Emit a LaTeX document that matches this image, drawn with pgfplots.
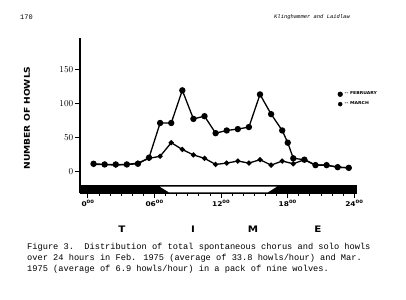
\documentclass[border=0pt]{standalone}
\usepackage{pgfplots}
\pgfplotsset{compat=1.18}
\usepackage{fontspec}
\setmainfont{Liberation Mono}
\newfontfamily\figfont[FakeStretch=1.15]{DejaVu Sans}
\newfontfamily\capfont{Liberation Mono}
\begin{document}
\begin{tikzpicture}[x=1bp,y=1bp]
\useasboundingbox[fill=white] (0,0) rectangle (406,300);
\begin{axis}[
  at={(80bp,107bp)}, anchor=south west, scale only axis,
  width=277bp, height=155bp,
  xmin=-0.72, xmax=24.24, ymin=-32, ymax=196,
  axis x line=bottom, axis y line=left,
  axis line style={-, line width=1.3bp},
  xtick={0,6,12,18,24}, minor xtick={1,2,3,4,5,7,8,9,10,11,13,14,15,16,17,19,20,21,22,23},
  xticklabels={0\textsuperscript{00},06\textsuperscript{00},12\textsuperscript{00},18\textsuperscript{00},24\textsuperscript{00}},
  ytick={0,50,100,150},
  tick align=outside, major tick length=5bp, minor tick length=3bp,
  tick style={black, line width=1bp},
  x tick label style={font=\figfont\bfseries\fontsize{6.5}{6.5}\selectfont, inner sep=2pt},
  y tick label style={font=\figfont\bfseries\fontsize{9}{9}\selectfont, inner sep=1.5pt},
  legend style={at={(0.93,0.605)}, anchor=west, draw=none, fill=none,
    font=\figfont\bfseries\fontsize{4}{4}\selectfont, row sep=1.5bp, inner sep=0pt,
    cells={anchor=west}},
  legend cell align=left,
  clip=false,
]
% day/night bar
\fill[black] (axis cs:-0.72,-32) rectangle (axis cs:24.24,-20.6);
\fill[white] (axis cs:6.49,-22.8) -- (axis cs:17.0,-22.8) -- (axis cs:16.2,-31.0) -- (axis cs:7.3,-31.0) -- cycle;

\addplot[forget plot, black, line width=1.3bp, mark=*, mark size=2.5bp, mark options={solid, fill=black}]
coordinates {(0.5,11)(1.5,10)(2.5,10)(3.5,10)(4.5,11)(5.5,20)(6.5,71)(7.5,71)(8.5,119)(9.5,77)(10.5,81)(11.5,56)(12.5,60)(13.5,62)(14.5,65)(15.5,113)(16.5,84)(17.5,60)(18.0,42)(18.5,19)(19.5,17)(20.5,9)(21.5,9)(22.5,6)(23.5,5)};
\addplot[forget plot, black, line width=1.3bp, mark=*, mark size=1.9bp, mark options={solid, fill=black}]
coordinates {(0.5,10)(1.5,10)(2.5,9)(3.5,10)(4.5,12)(5.5,19)(6.5,22)(7.5,42)(8.5,32)(9.5,24)(10.5,19)(11.5,10)(12.5,12)(13.5,15)(14.5,12)(15.5,17)(16.5,9)(17.5,15)(18.5,11)(19.5,17)(20.5,9)(21.5,9)(22.5,6)(23.5,5)};
\addlegendimage{only marks, mark=*, mark size=2.4bp, black}
\addlegendentry{-- FEBRUARY}
\addlegendimage{only marks, mark=*, mark size=2bp, black}
\addlegendentry{-- MARCH}
\end{axis}
% axis label
\node[rotate=90, font=\figfont\bfseries\fontsize{8}{8}\selectfont] at (27,182) {NUMBER OF HOWLS};
% TIME letters
\foreach \xx/\ll in {122/T,193/I,253/M,318/E}
  \node[font=\figfont\bfseries\fontsize{9}{9}\selectfont] at (\xx,71) {\ll};
% header
\node[anchor=west, font=\capfont\fontsize{7}{7}\selectfont, inner sep=0pt] at (20,283) {170};
\node[anchor=west, font=\capfont\itshape\fontsize{5.5}{5.5}\selectfont, inner sep=0pt] at (274,283) {Klinghammer and Laidlaw};
% caption
\node[anchor=west, font=\capfont\fontsize{8.7}{8.7}\selectfont, inner sep=0pt] at (27,52.5) {Figure 3.\ \ Distribution of total spontaneous chorus and solo howls};
\node[anchor=west, font=\capfont\fontsize{8.7}{8.7}\selectfont, inner sep=0pt] at (27,41.5) {over 24 hours in Feb. 1975 (average of 33.8 howls/hour) and Mar.};
\node[anchor=west, font=\capfont\fontsize{8.7}{8.7}\selectfont, inner sep=0pt] at (27,30.5) {1975 (average of 6.9 howls/hour) in a pack of nine wolves.};
\end{tikzpicture}
\end{document}
